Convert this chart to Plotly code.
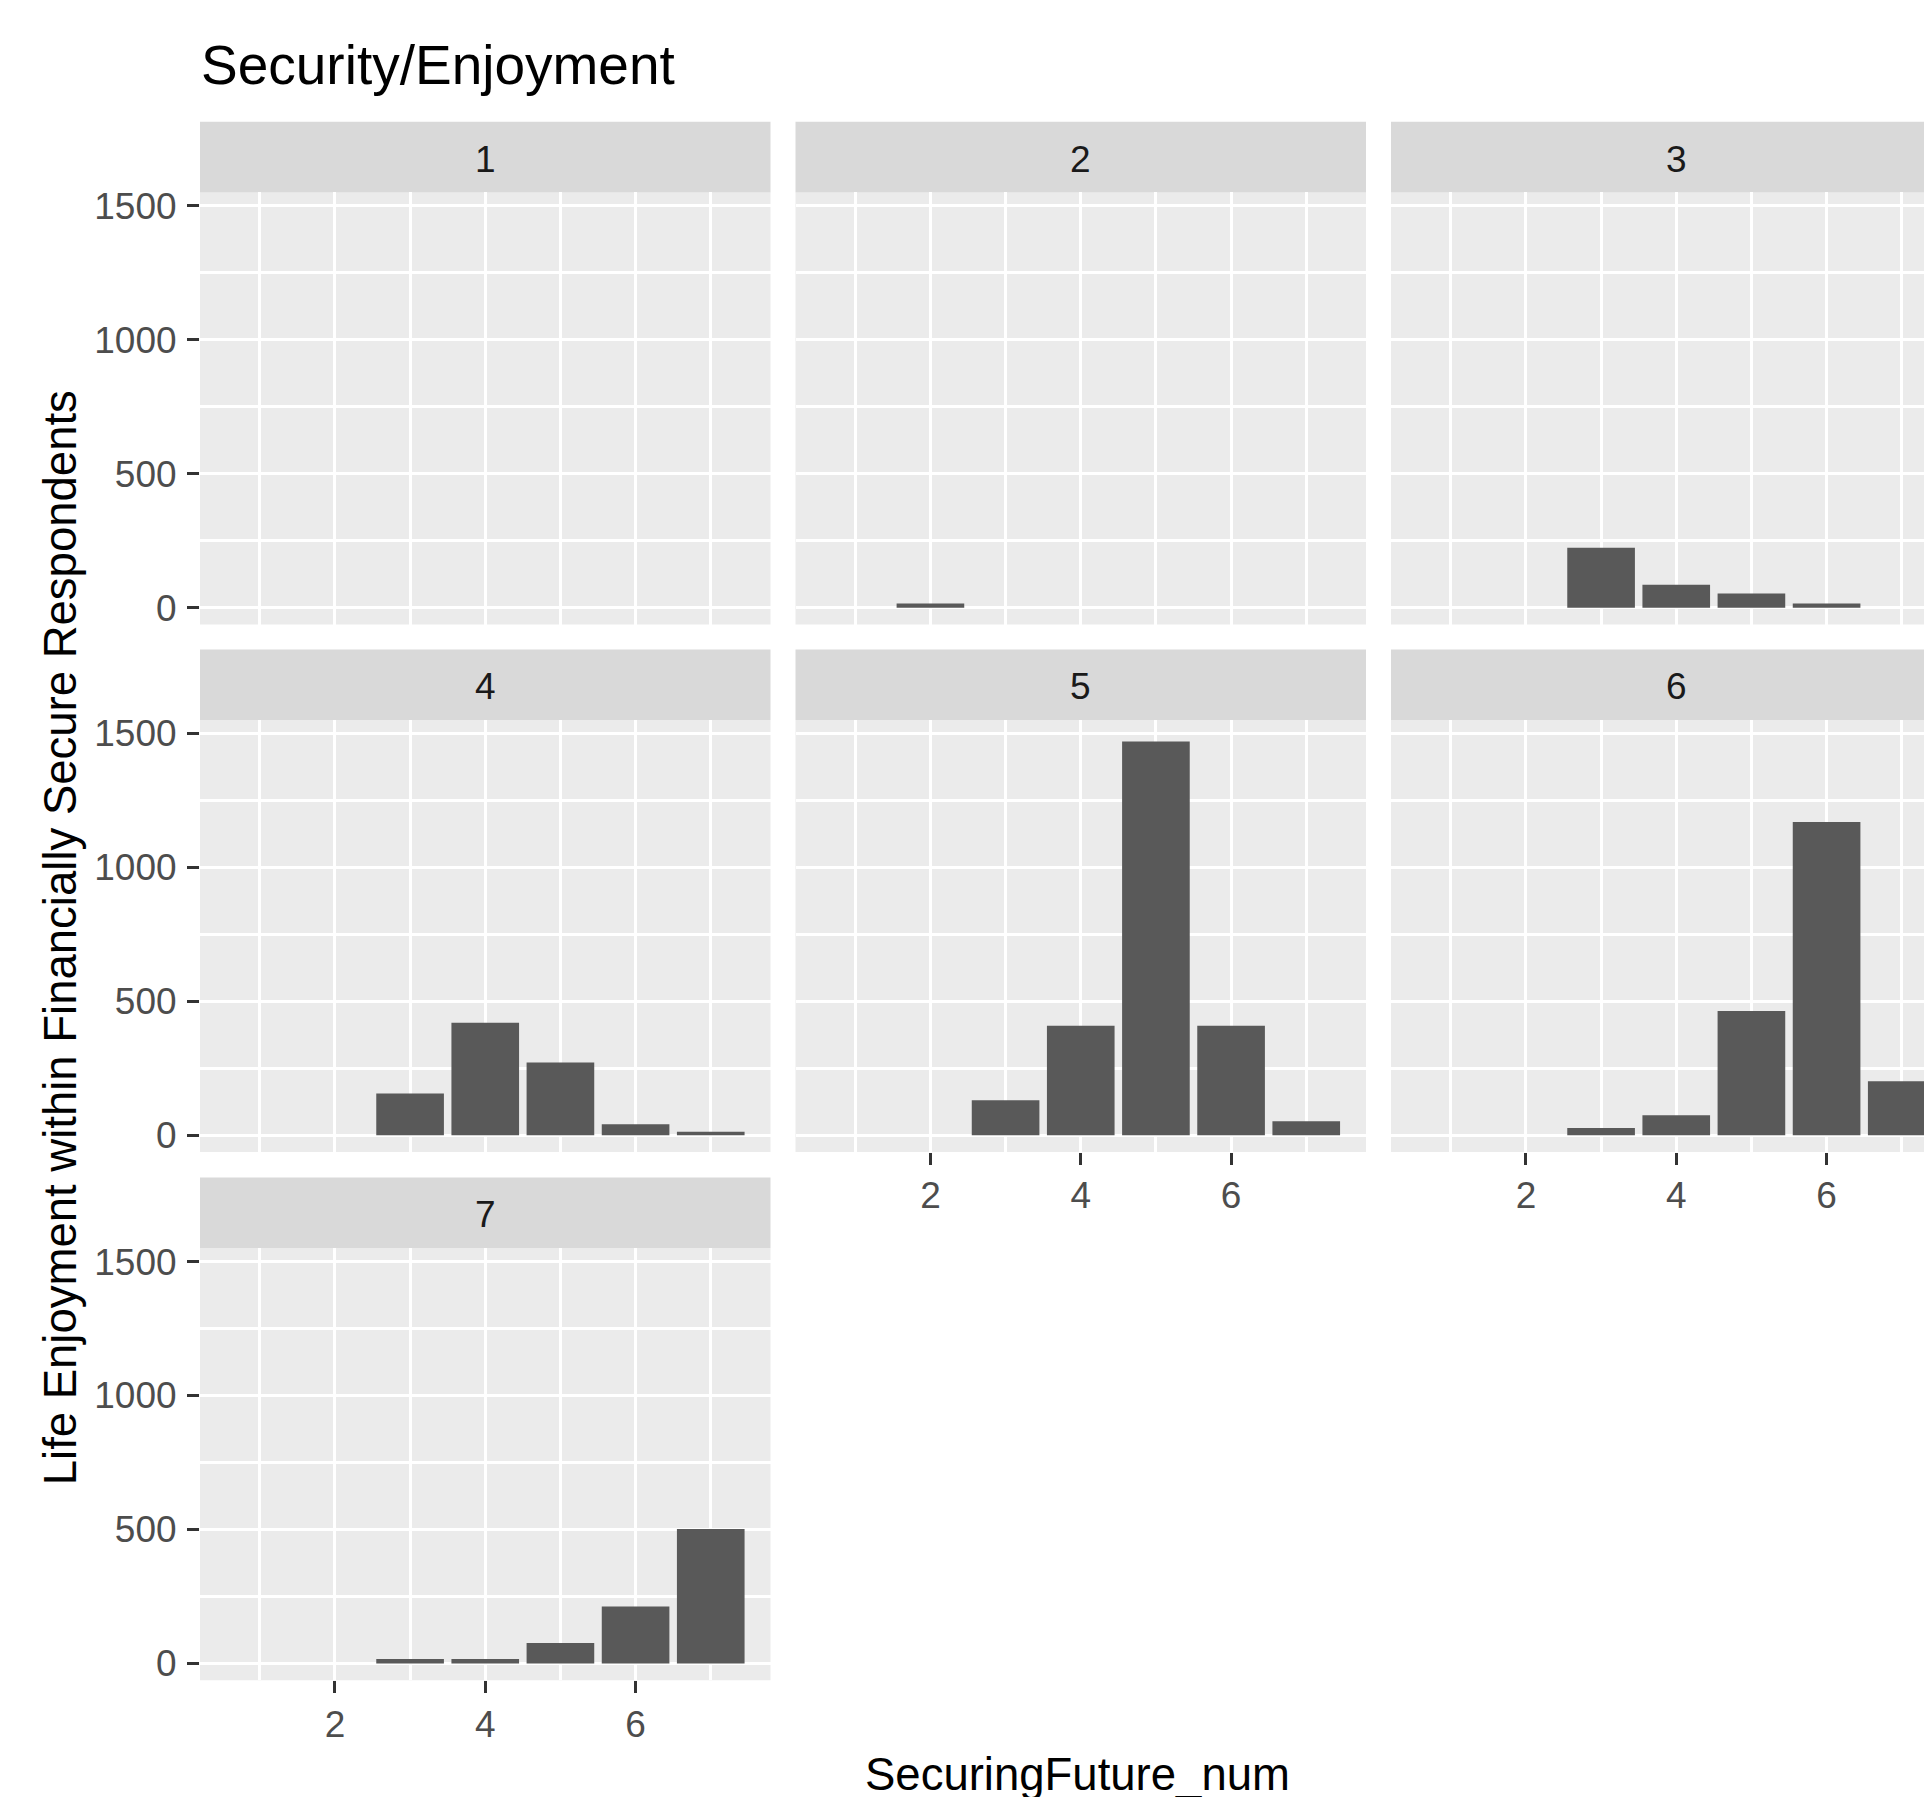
import plotly.graph_objects as go

# ---------------- data ----------------
securing_future = [1, 2, 3, 4, 5, 6, 7]
facet_labels = ["1", "2", "3", "4", "5", "6", "7"]
counts_facet_1 = [0, 0, 0, 0, 0, 0, 0]
counts_facet_2 = [0, 16, 0, 0, 0, 0, 0]
counts_facet_3 = [0, 0, 224, 86, 53, 16, 0]
counts_facet_4 = [0, 0, 156, 420, 272, 41, 13]
counts_facet_5 = [0, 0, 131, 409, 1470, 409, 53]
counts_facet_6 = [0, 0, 27, 75, 464, 1170, 202]
counts_facet_7 = [0, 0, 16, 16, 76, 212, 502]
facet_counts = [counts_facet_1, counts_facet_2, counts_facet_3, counts_facet_4,
                counts_facet_5, counts_facet_6, counts_facet_7]
x_tickvals = [2, 4, 6]
x_minorvals = [1, 3, 5, 7]
y_tickvals = [0, 500, 1000, 1500]
y_minorvals = [250, 750, 1250]

title_text = "Security/Enjoyment"
x_title = "SecuringFuture_num"
y_title = "Life Enjoyment within Financially Secure Respondents"

# ---------------- layout geometry (pixels) ----------------
W, H = 1924, 1797
FONT = "Liberation Sans, Arial, sans-serif"
PANEL_BG = "#EBEBEB"
STRIP_BG = "#D9D9D9"
BAR_COLOR = "#595959"

col_x = [(200.0, 770.5), (795.5, 1366.0), (1391.0, 1924.0)]
col_full_right = [770.5, 1366.0, 1961.5]
strip_top = [116.5, 647.0, 1178.0]
STRIP_H = 71.0
PANEL_H = 434.5
px_per_unit = 570.5 / 7.59
X_LO = 0.205
Y_RANGE = [-62.5, 1550.5]


def fx(p):
    return p / W


def fy(p):
    return 1 - p / H


fig = go.Figure()
shapes = []
annotations = []

n_cols = 3
bottom_facets = {5, 6, 7}   # facets that show x tick labels
left_facets = {1, 4, 7}     # facets that show y tick labels

for i, (lab, counts) in enumerate(zip(facet_labels, facet_counts)):
    k = i + 1
    r, c = divmod(i, n_cols)
    x0, x1 = col_x[c]
    T = strip_top[r]
    p_top = T + STRIP_H
    p_bot = p_top + PANEL_H
    xr_hi = X_LO + (x1 - x0) / px_per_unit

    sfx = "" if k == 1 else str(k)
    fig.add_trace(go.Bar(
        x=securing_future, y=counts, width=0.9,
        marker=dict(color=BAR_COLOR, line=dict(width=0)),
        xaxis="x" + sfx, yaxis="y" + sfx, showlegend=False,
        hoverinfo="x+y",
    ))

    xa = dict(
        domain=[fx(x0), fx(x1)], anchor="y" + sfx, range=[X_LO, xr_hi],
        tickmode="array", tickvals=x_tickvals, ticktext=[str(v) for v in x_tickvals],
        showgrid=True, gridcolor="white", gridwidth=3,
        minor=dict(tickmode="array", tickvals=x_minorvals, showgrid=True,
                   gridcolor="white", gridwidth=3, ticks=""),
        zeroline=False, showline=False, fixedrange=True,
        showticklabels=k in bottom_facets,
        ticks="outside" if k in bottom_facets else "",
        ticklen=12, tickwidth=3, tickcolor="#333333",
        tickfont=dict(family=FONT, size=37, color="#4D4D4D"),
        ticklabelstandoff=-1,
    )
    ya = dict(
        domain=[fy(p_bot), fy(p_top)], anchor="x" + sfx, range=Y_RANGE,
        tickmode="array", tickvals=y_tickvals, ticktext=[str(v) for v in y_tickvals],
        showgrid=True, gridcolor="white", gridwidth=3,
        minor=dict(tickmode="array", tickvals=y_minorvals, showgrid=True,
                   gridcolor="white", gridwidth=3, ticks=""),
        zeroline=False, showline=False, fixedrange=True,
        showticklabels=k in left_facets,
        ticks="outside" if k in left_facets else "",
        ticklen=12, tickwidth=3, tickcolor="#333333",
        tickfont=dict(family=FONT, size=37, color="#4D4D4D"),
        ticklabelstandoff=3,
    )
    fig.layout["xaxis" + sfx] = xa
    fig.layout["yaxis" + sfx] = ya

    # panel background
    shapes.append(dict(type="rect", xref="paper", yref="paper",
                       x0=fx(x0), x1=fx(x1), y0=fy(p_bot), y1=fy(p_top),
                       fillcolor=PANEL_BG, line=dict(width=0), layer="below"))
    # strip
    shapes.append(dict(type="rect", xref="paper", yref="paper",
                       x0=fx(x0), x1=fx(x1), y0=fy(T + STRIP_H), y1=fy(T),
                       fillcolor=STRIP_BG, line=dict(width=0), layer="below"))
    annotations.append(dict(
        text=lab, xref="paper", yref="paper",
        x=fx((x0 + col_full_right[c]) / 2), y=fy(T + 37.5),
        xanchor="center", yanchor="middle", showarrow=False,
        font=dict(family=FONT, size=37, color="#1A1A1A")))

# titles
annotations.append(dict(text=title_text, xref="paper", yref="paper",
                        x=fx(199), y=fy(59), xanchor="left", yanchor="middle",
                        showarrow=False, font=dict(family=FONT, size=55, color="black")))
annotations.append(dict(text=y_title, xref="paper", yref="paper",
                        x=fx(60.5), y=fy(937), xanchor="center", yanchor="middle",
                        textangle=-90, showarrow=False,
                        font=dict(family=FONT, size=45.5, color="black")))
annotations.append(dict(text=x_title, xref="paper", yref="paper",
                        x=fx(1077), y=fy(1778), xanchor="center", yanchor="middle",
                        showarrow=False, font=dict(family=FONT, size=45.5, color="black")))

fig.update_layout(
    width=W, height=H,
    margin=dict(l=0, r=0, t=0, b=0),
    paper_bgcolor="white", plot_bgcolor="rgba(0,0,0,0)",
    shapes=shapes, annotations=annotations,
    barmode="overlay", showlegend=False,
    font=dict(family=FONT),
)

fig.write_html(
    "out.html",
    config={"displayModeBar": False},
    post_script="document.body.style.margin='0px';document.body.style.padding='0px';"
                "document.body.style.overflow='hidden';",
)
